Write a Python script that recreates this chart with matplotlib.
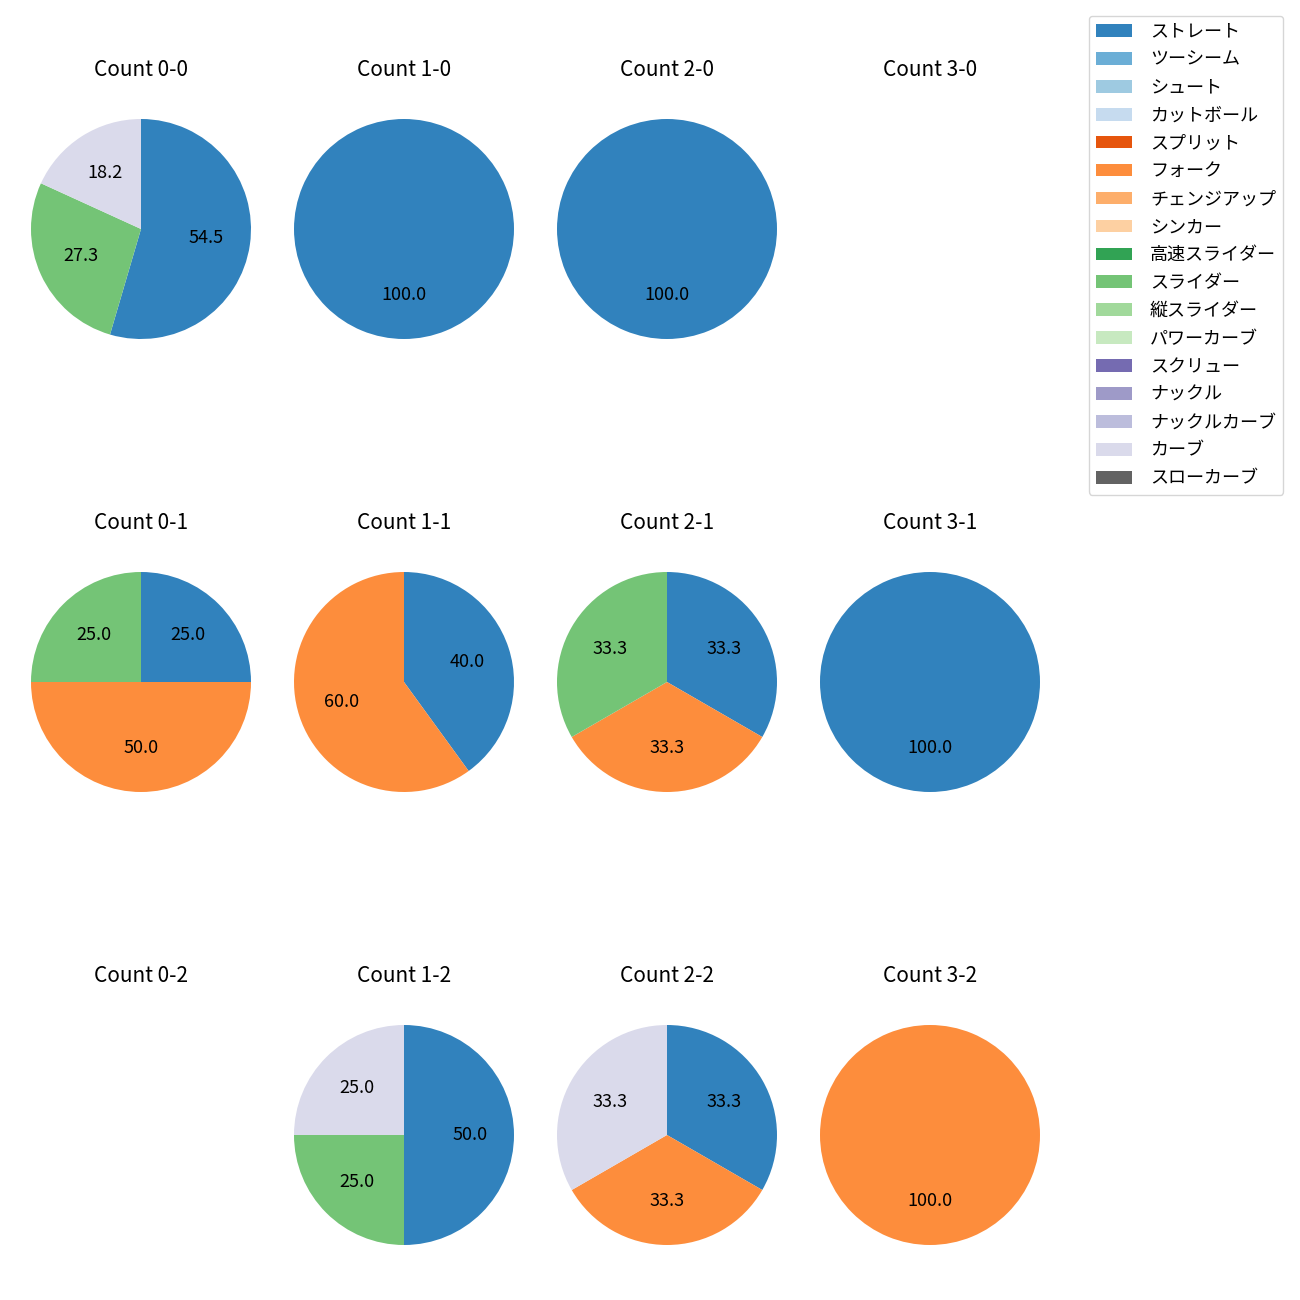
import matplotlib
matplotlib.use("Agg")
import matplotlib.pyplot as plt
from matplotlib.patches import Patch

plt.rcParams['font.family'] = ['Noto Sans CJK JP', 'DejaVu Sans']

pitch_types = ["ストレート", "ツーシーム", "シュート", "カットボール", "スプリット", "フォーク",
               "チェンジアップ", "シンカー", "高速スライダー", "スライダー", "縦スライダー",
               "パワーカーブ", "スクリュー", "ナックル", "ナックルカーブ", "カーブ", "スローカーブ"]
pitch_colors = ["#3182bd", "#6baed6", "#9ecae1", "#c6dbef", "#e6550d", "#fd8d3c",
                "#fdae6b", "#fdd0a2", "#31a354", "#74c476", "#a1d99b", "#c7e9c0",
                "#756bb1", "#9e9ac8", "#bcbddc", "#dadaeb", "#636363"]

# counts laid out row by row (strikes rows, balls columns)
count_labels = ["0-0", "1-0", "2-0", "3-0",
                "0-1", "1-1", "2-1", "3-1",
                "0-2", "1-2", "2-2", "3-2"]
# pitches thrown per count: {pitch type: number}
count_pitches = [
    {"ストレート": 6, "スライダー": 3, "カーブ": 2},
    {"ストレート": 1},
    {"ストレート": 1},
    {},
    {"ストレート": 1, "フォーク": 2, "スライダー": 1},
    {"ストレート": 2, "フォーク": 3},
    {"ストレート": 1, "フォーク": 1, "スライダー": 1},
    {"ストレート": 1},
    {},
    {"ストレート": 2, "スライダー": 1, "カーブ": 1},
    {"ストレート": 1, "フォーク": 1, "カーブ": 1},
    {"フォーク": 1},
]

W = H = 1300
fig = plt.figure(figsize=(13, 13), dpi=100)

col_centers = [141, 404, 667, 930]
row_centers = [229, 682, 1135]
radius_px = 110
size_px = 2.5 * radius_px

for i, (lab, pitches) in enumerate(zip(count_labels, count_pitches)):
    r, c = divmod(i, 4)
    cx, cy = col_centers[c], row_centers[r]
    ax = fig.add_axes([(cx - size_px / 2) / W, 1 - (cy + size_px / 2) / H,
                       size_px / W, size_px / H])
    names = [p for p in pitch_types if pitches.get(p, 0) > 0]
    vals = [pitches[p] for p in names]
    cols = [pitch_colors[pitch_types.index(p)] for p in names]
    if vals:
        ax.pie(vals, colors=cols, autopct='%.1f', startangle=90, counterclock=False,
               textprops={'fontsize': 13})
    else:
        ax.set_xlim(-1.25, 1.25)
        ax.set_ylim(-1.25, 1.25)
        ax.set_aspect('equal')
    ax.axis('off')
    ax.set_title(f"Count {lab}", fontsize=15, y=1.025)

handles = [Patch(facecolor=c, label=p) for p, c in zip(pitch_types, pitch_colors)]
fig.legend(handles=handles, loc='upper right', bbox_to_anchor=(0.994, 0.995),
           fontsize=13, labelspacing=0.55, handletextpad=1.0)

fig.savefig("out.png", dpi=100)
